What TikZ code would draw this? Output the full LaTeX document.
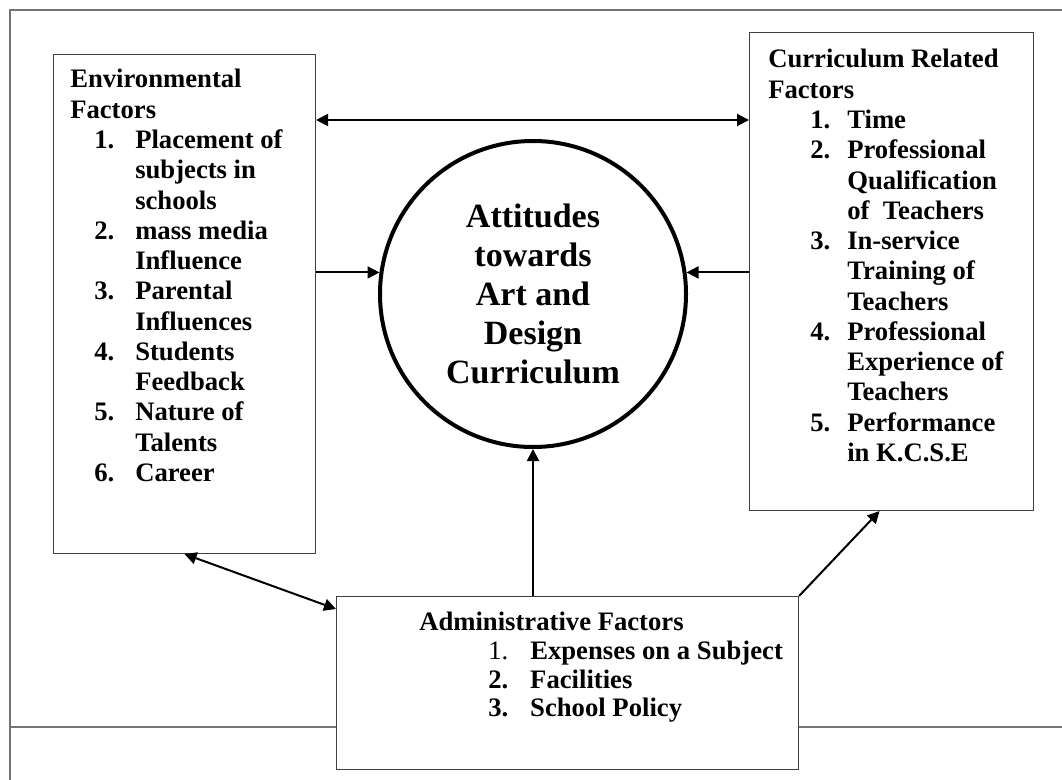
\documentclass[tikz,border=0pt]{standalone}
\usepackage{fontspec}
\setmainfont{Liberation Serif}
\usetikzlibrary{arrows.meta}
\newlength\px
\setlength\px{0.75pt}
\begin{document}
\begin{tikzpicture}[x=0.75pt, y=-0.75pt,
  factorbox/.style={draw=black!75, line width=0.8pt, anchor=north west, inner sep=0pt},
  listtext/.style={anchor=north west, inner sep=0pt, font=\bfseries\fontsize{20}{22.7}\selectfont},
  link/.style={line width=1.5pt, -{Triangle[length=9pt, width=9pt]}},
  bilink/.style={line width=1.5pt, {Triangle[length=9pt, width=9pt]}-{Triangle[length=9pt, width=9pt]}},
  frame/.style={draw=black!55, line width=1.5pt}]
\useasboundingbox (0,0) rectangle (1062,780);
% boxes and the centre circle
\node (env) at (53,54) [factorbox, minimum width=262\px, minimum height=499\px] {};
\node (curr) at (749,32) [factorbox, minimum width=284\px, minimum height=478\px] {};
\node (admin) at (336,596) [factorbox, minimum width=462\px, minimum height=173\px] {};
\node (attitudes) at (533,294) [circle, draw, line width=3pt, minimum size=306\px, inner sep=0pt, align=center, font=\bfseries\fontsize{25.5}{29.25}\selectfont] {Attitudes\\towards\\Art and\\Design\\Curriculum};
% lists
\node (envlist) at (70,66.5) [listtext] {\begin{tabular}{@{\hspace{24\px}}l@{\hspace{21\px}}l@{}}
\multicolumn{2}{@{}l@{}}{Environmental}\\
\multicolumn{2}{@{}l@{}}{Factors}\\
1. & Placement of\\
   & subjects in\\
   & schools\\
2. & mass media\\
   & Influence\\
3. & Parental\\
   & Influences\\
4. & Students\\
   & Feedback\\
5. & Nature of\\
   & Talents\\
6. & Career
\end{tabular}};
\node (currlist) at (768,46.5) [listtext] {\begin{tabular}{@{\hspace{42\px}}l@{\hspace{17\px}}l@{}}
\multicolumn{2}{@{}l@{}}{Curriculum Related}\\
\multicolumn{2}{@{}l@{}}{Factors}\\
1. & Time\\
2. & Professional\\
   & Qualification\\
   & of\ \ Teachers\\
3. & In-service\\
   & Training of\\
   & Teachers\\
4. & Professional\\
   & Experience of\\
   & Teachers\\
5. & Performance\\
   & in K.C.S.E
\end{tabular}};
\node (adminlist) at (419,610.7) [listtext, font=\bfseries\fontsize{20}{21.4}\selectfont] {\begin{tabular}{@{\hspace{69\px}}l@{\hspace{22\px}}l@{}}
\multicolumn{2}{@{}l@{}}{Administrative Factors}\\
\mdseries 1. & Expenses on a Subject\\
2. & Facilities\\
3. & School Policy
\end{tabular}};
% page rules
\coordinate (rule) at (10,727);
\draw [frame] (1062,10) -- (10,10) -- (10,780);
\draw [frame] (rule) -- (rule -| admin.west) (rule -| admin.east) -- (1062,727);
% connectors
\coordinate (toplink) at (533,120);
\draw [bilink] (env.east |- toplink) -- (curr.west |- toplink);
\draw [link] (env.east |- attitudes.172) -- (attitudes.172);
\draw [link] (curr.west |- attitudes.8) -- (attitudes.8);
\draw [link] (admin.north -| attitudes.south) -- (attitudes.south);
\draw [bilink] (env.south) -- ([yshift=-13\px]admin.north west);
\draw [link] (admin.north east) -- ([xshift=-12\px]curr.south);
\end{tikzpicture}
\end{document}
